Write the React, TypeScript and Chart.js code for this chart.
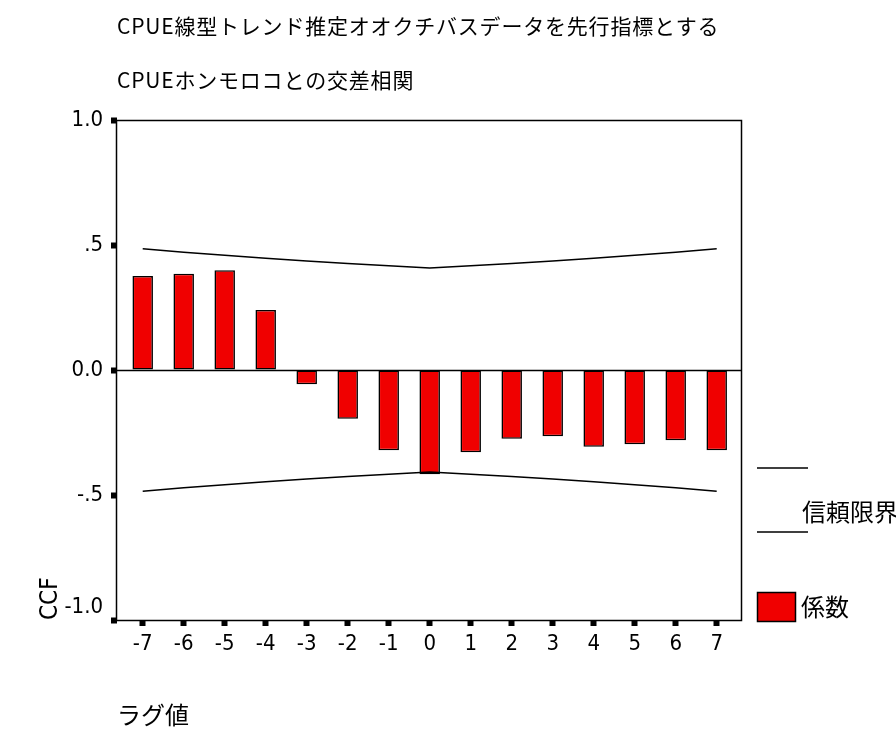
import React, { useEffect, useRef } from 'react';
import { Chart, registerables } from 'chart.js';

Chart.register(...registerables);

// Lags of the cross-correlation function
const lags = [-7, -6, -5, -4, -3, -2, -1, 0, 1, 2, 3, 4, 5, 6, 7];

// Cross-correlation coefficients (係数)
const ccf = [0.376, 0.385, 0.399, 0.24, -0.057, -0.195, -0.321, -0.417, -0.329, -0.275, -0.265, -0.307, -0.297, -0.281, -0.321];

// Confidence limits (信頼限界)
const upperLimit = [0.485, 0.471, 0.459, 0.447, 0.436, 0.426, 0.417, 0.408, 0.417, 0.426, 0.436, 0.447, 0.459, 0.471, 0.485];
const lowerLimit = [-0.485, -0.471, -0.459, -0.447, -0.436, -0.426, -0.417, -0.408, -0.417, -0.426, -0.436, -0.447, -0.459, -0.471, -0.485];

// Y axis ticks and their printed form
const yTicks = [-1, -0.5, 0, 0.5, 1];
const yTickText = ['-1.0', '-.5', '0.0', '.5', '1.0'];

const titleLines = ['CPUE線型トレンド推定オオクチバスデータを先行指標とする', 'CPUEホンモロコとの交差相関'];
const legendLimit = '信頼限界';
const legendCoef = '係数';
const yTitle = 'CCF';
const xTitle = 'ラグ値';

const JP = "'Noto Sans CJK JP', 'Noto Sans', sans-serif";
const NUM = "'Liberation Sans Narrow', 'DejaVu Sans Condensed', 'Liberation Sans', Arial, sans-serif";
const RED = 'rgb(240, 0, 0)';

const decorPlugin = {
  id: 'decor',
  afterDatasetsDraw(chart: any) {
    const { ctx, chartArea } = chart;
    const { left, right, top, bottom } = chartArea;
    const y0 = Math.round(chart.scales.y.getPixelForValue(0)) + 0.5;
    ctx.save();
    ctx.strokeStyle = '#000';
    ctx.lineWidth = 1.5;
    ctx.beginPath();
    ctx.moveTo(left, y0);
    ctx.lineTo(right, y0);
    ctx.stroke();
    ctx.strokeRect(Math.round(left) - 0.5, Math.round(top) + 0.5, Math.round(right - left), Math.round(bottom - top));
    ctx.restore();
  },
  afterDraw(chart: any) {
    const { ctx, chartArea } = chart;
    ctx.save();
    ctx.fillStyle = '#000';
    ctx.textBaseline = 'middle';
    ctx.textAlign = 'left';

    // Two-line heading
    ctx.font = `21px ${JP}`;
    (ctx as any).letterSpacing = '0.8px';
    ctx.fillText(titleLines[0], chartArea.left, 26);
    ctx.fillText(titleLines[1], chartArea.left, 80);
    (ctx as any).letterSpacing = '0px';

    // Legend at the right of the plot
    const lx = chartArea.right + 15;
    ctx.strokeStyle = '#000';
    ctx.lineWidth = 1.5;
    ctx.beginPath();
    ctx.moveTo(lx, 468);
    ctx.lineTo(lx + 51, 468);
    ctx.moveTo(lx, 532);
    ctx.lineTo(lx + 51, 532);
    ctx.stroke();
    ctx.font = `24px ${JP}`;
    ctx.fillText(legendLimit, lx + 45, 512);

    ctx.fillStyle = RED;
    ctx.fillRect(lx, 592, 39, 30);
    ctx.strokeRect(lx + 0.5, 592.5, 38, 29);
    ctx.fillStyle = '#000';
    ctx.fillText(legendCoef, lx + 44, 607);
    ctx.restore();
  },
};

export default function App() {
  const canvasRef = useRef<HTMLCanvasElement | null>(null);

  useEffect(() => {
    document.body.style.margin = '0';
    const canvas = canvasRef.current;
    if (!canvas) return;

    const chart = new Chart(canvas, {
      type: 'bar',
      data: {
        datasets: [
          {
            type: 'line',
            label: legendLimit,
            data: lags.map((x, i) => ({ x, y: upperLimit[i] })),
            borderColor: '#000',
            borderWidth: 1.3,
            pointRadius: 0,
            tension: 0,
            fill: false,
          },
          {
            type: 'line',
            label: legendLimit,
            data: lags.map((x, i) => ({ x, y: lowerLimit[i] })),
            borderColor: '#000',
            borderWidth: 1.3,
            pointRadius: 0,
            tension: 0,
            fill: false,
          },
          {
            type: 'bar',
            label: legendCoef,
            data: lags.map((x, i) => ({ x, y: ccf[i] })),
            backgroundColor: RED,
            borderColor: '#000',
            borderWidth: 1.6,
            borderSkipped: false,
            barPercentage: 0.5,
            categoryPercentage: 1,
            grouped: false,
          },
        ],
      } as any,
      options: {
        responsive: false,
        animation: false,
        events: [],
        devicePixelRatio: 1,
        layout: { padding: { top: 120, right: 154, bottom: 0, left: 0 } },
        plugins: {
          legend: { display: false },
          title: { display: false },
          tooltip: { enabled: false },
        },
        scales: {
          x: {
            type: 'linear',
            position: 'bottom',
            offset: false,
            min: -7.627,
            max: 7.617,
            afterFit(scale: any) {
              scale.height = 113;
            },
            border: { display: false },
            grid: {
              display: true,
              offset: false,
              drawOnChartArea: false,
              drawTicks: true,
              tickLength: 6,
              tickWidth: 6,
              tickColor: '#000',
            },
            ticks: {
              stepSize: 1,
              includeBounds: false,
              autoSkip: false,
              maxRotation: 0,
              padding: 5,
              color: '#000',
              font: { family: NUM, size: 22 },
              callback: (v: any) => String(v),
            },
            title: {
              display: true,
              text: xTitle,
              align: 'start',
              color: '#000',
              font: { family: JP, size: 24 },
              padding: { top: 0, bottom: 4 },
            },
          },
          y: {
            type: 'linear',
            position: 'left',
            min: -1,
            max: 1,
            afterFit(scale: any) {
              scale.width = 117;
            },
            afterBuildTicks(scale: any) {
              scale.ticks = yTicks.map((value) => ({ value }));
            },
            border: { display: false },
            grid: {
              display: true,
              drawOnChartArea: false,
              drawTicks: true,
              tickLength: 6,
              tickWidth: 6,
              tickColor: '#000',
            },
            ticks: {
              padding: 8,
              color: '#000',
              font: { family: NUM, size: 22 },
              callback: (v: any) => {
                const i = yTicks.indexOf(Number(v));
                const t = i >= 0 ? yTickText[i] : String(v);
                return Number(v) === -1 ? [t, ''] : t;
              },
            },
            title: {
              display: true,
              text: yTitle,
              align: 'start',
              color: '#000',
              font: { family: NUM, size: 24 },
              padding: { top: 36, bottom: 0 },
            },
          },
        },
      } as any,
      plugins: [decorPlugin],
    });

    return () => chart.destroy();
  }, []);

  return (
    <div style={{ position: 'relative', width: 896, height: 733, background: '#fff' }}>
      <canvas ref={canvasRef} width={896} height={733} style={{ display: 'block' }} />
    </div>
  );
}
